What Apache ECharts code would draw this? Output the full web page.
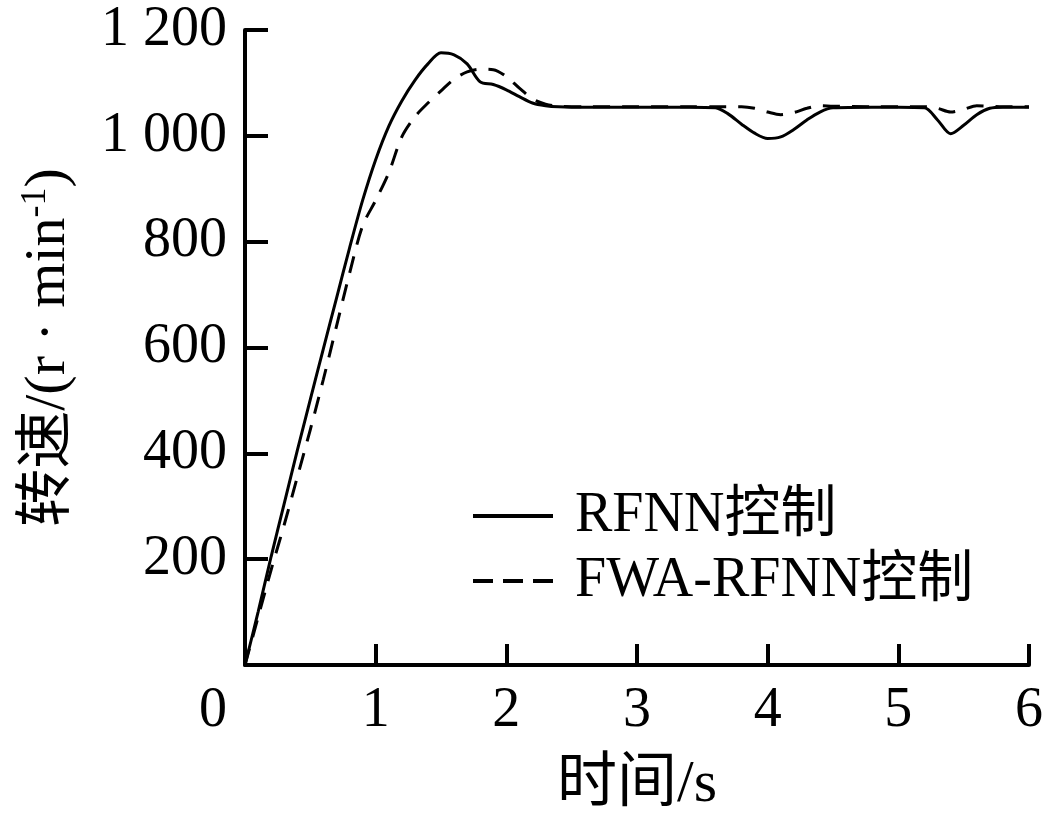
<!DOCTYPE html>
<html>
<head>
<meta charset="utf-8">
<script src="https://cdn.jsdelivr.net/npm/echarts@6/dist/echarts.min.js"></script>
<style>
  html, body { margin: 0; padding: 0; background: #fff; }
  #chart { width: 1047px; height: 823px; }
</style>
</head>
<body>
<div id="chart"></div>
<script>
// 时间 (s)
const timeS = [0, 0.1, 0.2, 0.3, 0.4, 0.5, 0.6, 0.7, 0.8, 0.9, 1.0, 1.1, 1.2, 1.3, 1.4, 1.5, 1.6, 1.7, 1.8, 1.9,
  2.0, 2.1, 2.2, 2.3, 2.4, 2.6, 3.0, 3.4, 3.6, 3.7, 3.8, 3.9, 4.0, 4.1, 4.2, 4.3, 4.4, 4.5, 4.8, 5.0,
  5.2, 5.3, 5.4, 5.5, 5.6, 5.7, 5.8, 6.0];
// RFNN控制 转速
const rfnn = [0, 100, 205, 305, 405, 502, 598, 693, 788, 878, 955, 1018, 1066, 1105, 1136, 1157, 1153, 1136, 1102, 1097,
  1087, 1074, 1062, 1057, 1055, 1054, 1054, 1054, 1053, 1041, 1022, 1005, 995, 998, 1012, 1030, 1045, 1053, 1054, 1054,
  1053, 1030, 1004, 1020, 1040, 1052, 1054, 1054];
// FWA-RFNN控制 转速
const fwa = [0, 90, 180, 265, 355, 445, 540, 640, 740, 830, 878, 930, 998, 1036, 1062, 1085, 1107, 1121, 1126, 1125,
  1112, 1090, 1070, 1060, 1056, 1055, 1055, 1055, 1055, 1055, 1055, 1052, 1045, 1040, 1044, 1052, 1057, 1056, 1055, 1055,
  1055, 1052, 1045, 1050, 1057, 1056, 1055, 1055];

const xTicks = [0, 6, 1];      // min, max, interval
const yTicks = [0, 1200, 200];

const serif = '"Liberation Serif", "Noto Sans CJK SC", serif';

const chart = echarts.init(document.getElementById('chart'));
chart.setOption({
  animation: false,
  backgroundColor: '#fff',
  grid: { left: 245, right: 18, top: 30, bottom: 158 },
  legend: {
    orient: 'vertical',
    left: 466,
    top: 483,
    itemWidth: 80,
    itemHeight: 14,
    itemGap: 9,
    itemStyle: { opacity: 0 },
    lineStyle: { width: 4 },
    textStyle: { fontFamily: serif, fontSize: 56, color: '#000', padding: [0, 0, 0, 17] },
    data: [
      { name: 'RFNN控制' },
      { name: 'FWA-RFNN控制', lineStyle: { width: 4, type: [20, 10] } }
    ]
  },
  xAxis: {
    type: 'value',
    min: xTicks[0], max: xTicks[1], interval: xTicks[2],
    name: '时间/s',
    nameLocation: 'middle',
    nameGap: 90,
    nameTextStyle: { fontFamily: serif, fontSize: 60, color: '#000' },
    axisLine: { lineStyle: { color: '#000', width: 4 } },
    axisTick: { inside: true, length: 21, lineStyle: { color: '#000', width: 4 } },
    axisLabel: {
      fontFamily: serif, fontSize: 56, color: '#000', margin: 18,
      formatter: v => v === 0 ? '{z|0}' : String(v),
      rich: { z: { fontFamily: serif, fontSize: 56, color: '#000', padding: [0, 64, 0, 0] } }
    },
    splitLine: { show: false }
  },
  yAxis: {
    type: 'value',
    min: yTicks[0], max: yTicks[1], interval: yTicks[2],
    name: '转速/(r · min{sup|-1})',
    nameLocation: 'middle',
    nameGap: 165,
    nameTextStyle: {
      fontFamily: serif, fontSize: 58, color: '#000', lineHeight: 62,
      rich: { sup: { fontFamily: serif, fontSize: 36, color: '#000', verticalAlign: 'top', lineHeight: 62 } }
    },
    axisLine: { lineStyle: { color: '#000', width: 4 } },
    axisTick: { inside: true, length: 23, lineStyle: { color: '#000', width: 4 } },
    axisLabel: {
      fontFamily: serif, fontSize: 56, color: '#000', margin: 18,
      formatter: v => v === 0 ? '' : (v >= 1000 ? '1 ' + String(v).slice(1) : String(v))
    },
    splitLine: { show: false }
  },
  series: [
    {
      name: 'RFNN控制',
      type: 'line',
      symbol: 'none',
      smooth: 0.3,
      lineStyle: { color: '#000', width: 3, type: 'solid' },
      itemStyle: { color: '#000' },
      data: timeS.map((t, i) => [t, rfnn[i]])
    },
    {
      name: 'FWA-RFNN控制',
      type: 'line',
      symbol: 'none',
      smooth: 0.3,
      lineStyle: { color: '#000', width: 3, type: [17, 12] },
      itemStyle: { color: '#000' },
      data: timeS.map((t, i) => [t, fwa[i]])
    }
  ]
});
</script>
</body>
</html>
